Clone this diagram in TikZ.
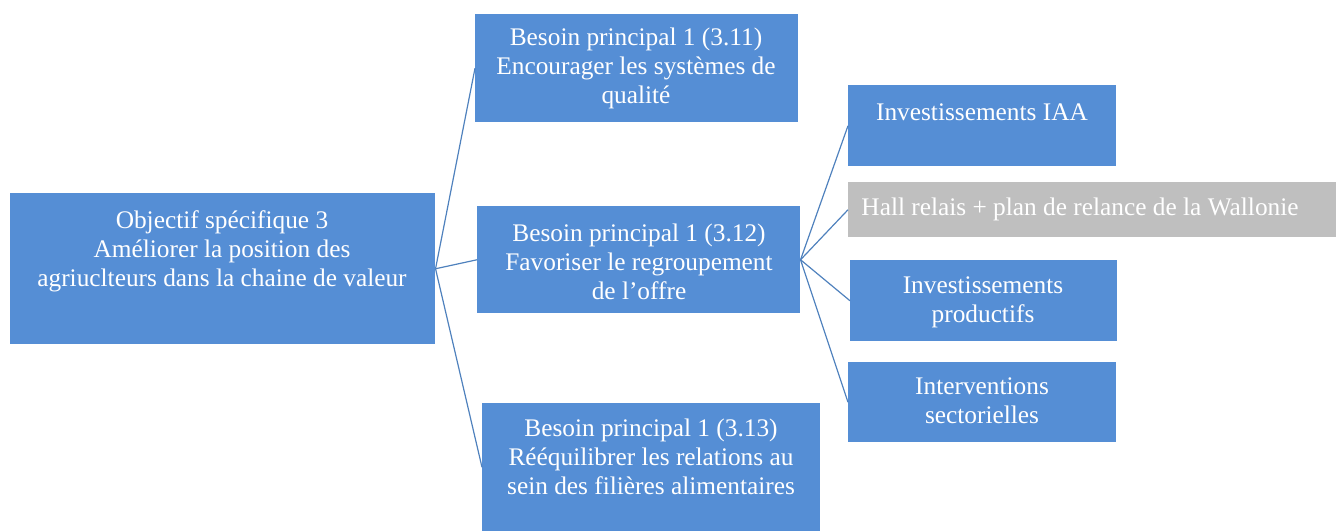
\documentclass[tikz,border=0pt]{standalone}
\usepackage{fontspec}
\setmainfont{Liberation Serif}
\definecolor{bleu}{HTML}{558ED5}
\definecolor{gris}{HTML}{BFBFBF}
\definecolor{trait}{HTML}{4F81BD}

\begin{document}
\begin{tikzpicture}[x=0.75pt,y=-0.75pt,
    boite/.style={fill=bleu, anchor=north west, inner sep=0pt},
    texte/.style={text=white, align=center, inner sep=0pt, font=\fontsize{19}{21.75}\selectfont},
    lien/.style={draw=trait, line width=0.9pt}]
    \useasboundingbox (0,0) rectangle (1336,531);
    % cases
    \node [boite, minimum width=318.75pt, minimum height=113.25pt] (obj) at (10,193) {};
    \node [boite, minimum width=242.25pt, minimum height=81pt] (bes1) at (475,14) {};
    \node [boite, minimum width=242.25pt, minimum height=80.25pt] (bes2) at (477,206) {};
    \node [boite, minimum width=253.5pt, minimum height=96pt] (bes3) at (482,403) {};
    \node [boite, minimum width=201pt, minimum height=60.75pt] (iaa) at (848,85) {};
    \node [boite, fill=gris, minimum width=366pt, minimum height=41.25pt] (hall) at (848,182) {};
    \node [boite, minimum width=200.25pt, minimum height=60.75pt] (prod) at (850,260) {};
    \node [boite, minimum width=201pt, minimum height=60pt] (interv) at (848,362) {};
    % textes
    \node [texte] (obj-t) at (222,251) {Objectif spécifique 3\\Améliorer la position des\\agriuclteurs dans la chaine de valeur};
    \node [texte] (bes1-t) at (636,68) {Besoin principal 1 (3.11)\\Encourager les systèmes de\\qualité};
    \node [texte] (bes2-t) at (639,262) {Besoin principal 1 (3.12)\\Favoriser le regroupement\\de l’offre};
    \node [texte] (bes3-t) at (651,457) {Besoin principal 1 (3.13)\\Rééquilibrer les relations au\\sein des filières alimentaires};
    \node [texte] (iaa-t) at (982,112) {Investissements IAA};
    \node [texte] (hall-t) at (1080,209) {Hall relais + plan de relance de la Wallonie};
    \node [texte] (prod-t) at (983,302) {Investissements\\productifs};
    \node [texte] (interv-t) at (982,401) {Interventions\\sectorielles};
    % liens
    \draw [lien] (obj.east) -- (bes1.west);
    \draw [lien] (obj.east) -- (bes2.west);
    \draw [lien] (obj.east) -- (bes3.west);
    \draw [lien] (bes2.east) -- (iaa.west);
    \draw [lien] (bes2.east) -- (hall.west);
    \draw [lien] (bes2.east) -- (prod.west);
    \draw [lien] (bes2.east) -- (interv.west);
\end{tikzpicture}
\end{document}
